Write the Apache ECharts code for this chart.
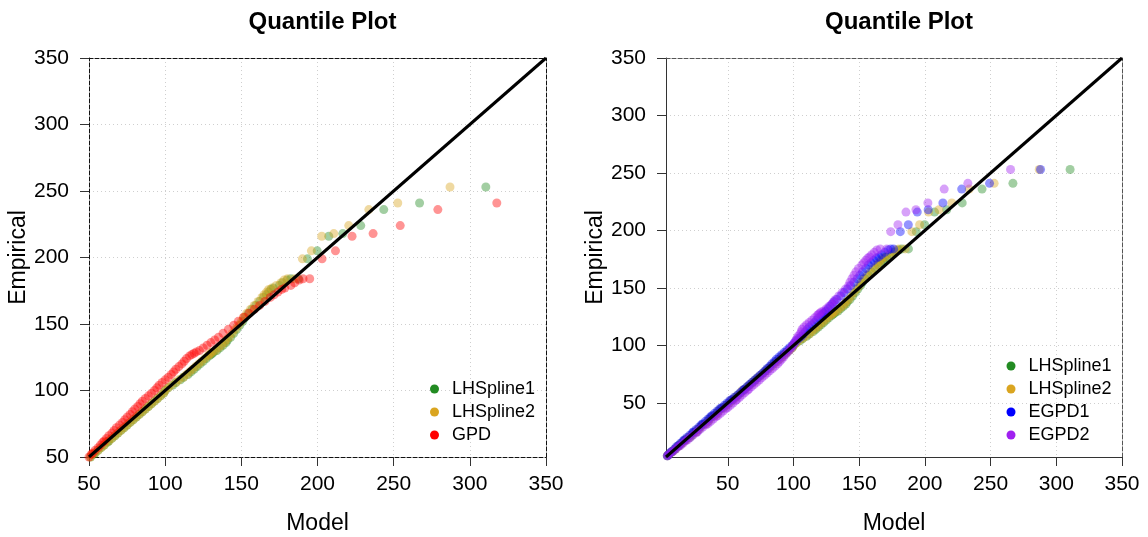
<!DOCTYPE html>
<html>
<head>
<meta charset="utf-8">
<title>Quantile Plot</title>
<script src="https://cdn.jsdelivr.net/npm/echarts@6/dist/echarts.min.js"></script>
<style>
  html, body { margin: 0; padding: 0; background: #fff; }
  #chart { width: 1148px; height: 537px; }
</style>
</head>
<body>
<div id="chart"></div>
<script>
// Sorted empirical quantiles (shared by every model)
const empirical = [
  4, 5, 7, 8, 10, 12, 13, 15, 17, 18,
  20, 22, 24, 25, 27, 29, 31, 32, 34, 36,
  38, 39, 41, 43, 45, 46, 48, 50, 52, 53,
  55, 57, 59, 61, 62, 64, 66, 68, 70, 72,
  74, 76, 78, 80, 82, 84, 86, 88, 90, 92,
  94, 96, 98, 100, 102, 104, 106, 108, 110, 112,
  114, 116, 118, 120, 122, 124, 126, 127, 128, 129,
  130, 132, 134, 136, 138, 140, 143, 146, 149, 152,
  155, 158, 161, 164, 167, 170, 172, 174, 176, 177,
  179, 181, 183, 184, 184, 199, 205, 216, 218, 224,
  236, 241, 253
];

// Model quantiles, one per empirical value
const lhSpline1 = [
  4, 5, 7, 8, 10, 12, 13, 15, 17, 18,
  21, 23, 24, 26, 28, 29, 31, 33, 35, 36,
  38, 40, 42, 43, 45, 47, 49, 51, 53, 54,
  56, 58, 60, 62, 63, 65, 67, 69, 71, 73,
  75, 77, 79, 81, 83, 85, 87, 89, 91, 93,
  95, 97, 99, 100, 102, 105, 107, 110, 112, 115,
  117, 119, 121, 123, 125, 127, 129, 130, 131, 132,
  134, 136, 138, 140, 141, 143, 145, 147, 149, 151,
  152.5, 154.5, 157, 159.5, 162, 164.5, 166.5, 168, 169.5, 171,
  175, 177, 180, 182.5, 187.5, 193.4, 199.8, 207.4, 216.6, 228.4,
  243.5, 267, 310.5
];

const lhSpline2 = [
  4, 5, 7, 8, 10, 12, 13, 15, 17, 18,
  20, 22, 24, 26, 27, 29, 31, 33, 35, 36,
  38, 40, 42, 43, 45, 47, 49, 51, 52, 54,
  56, 58, 60, 61, 63, 65, 67, 69, 71, 73,
  75, 77, 79, 81, 83, 85, 87, 89, 91, 93,
  95, 97, 99, 100, 102, 104, 107, 109, 112, 114,
  116, 118, 120, 122, 124, 126, 128, 129, 130, 131,
  133, 135, 137, 139, 140, 142, 144, 146, 148, 150,
  151.5, 153.5, 156, 158.5, 161, 163.5, 165, 166.5, 168, 170,
  173, 176, 178, 180.3, 185, 190.1, 196, 202.8, 210.7, 220.5,
  233.7, 252.7, 287
];

const egpd1 = [
  4, 5, 6.5, 7.5, 9.5, 11, 12.5, 14, 16, 17,
  19, 21, 23, 24, 26, 28, 30, 31, 33, 35,
  37, 38, 40, 42, 44, 45.5, 47.5, 49.5, 51.5, 53,
  55, 57.5, 59.5, 61.5, 62.5, 64.5, 66.5, 68.5, 70.5, 72.5,
  74.5, 76.5, 78.5, 80, 82, 83.5, 85.5, 87, 89, 91,
  93, 95, 97, 99, 100.5, 102, 104, 106, 107.5, 109,
  110.5, 112, 114, 116, 117.5, 119, 121, 122, 123, 124,
  125, 126.5, 128, 129.5, 131, 133, 136, 138.5, 141, 143.5,
  146, 148.5, 150.5, 152.5, 155, 157, 159, 161, 163, 165,
  167, 169.5, 172, 174, 176.2, 181.3, 187.4, 194.2, 202.5, 213.7,
  228, 249.2, 288
];

const egpd2 = [
  4, 5, 7, 8.5, 10.5, 12.5, 14, 16, 18, 19.5,
  21.5, 23.5, 26, 27, 29, 31, 33.5, 35, 37, 39,
  41, 42.5, 44.5, 46.5, 48.5, 50, 52, 54, 56, 57,
  59, 61, 63, 65, 66, 68, 70, 72, 74, 76,
  78, 80, 82, 84, 86, 88, 89.5, 91, 92.5, 94,
  95.5, 97, 98.5, 99.5, 100.5, 101.5, 102.5, 103.5, 105, 106,
  106.5, 108, 110, 112, 114, 116, 118, 119, 120, 121,
  123, 125, 127, 129, 130.5, 132, 134.5, 137, 139.5, 142,
  143, 144.5, 146, 147.5, 149.5, 152, 153.5, 155, 156.5, 158,
  159.5, 161.5, 163.5, 166, 171, 174, 179.5, 185.6, 193.2, 202.3,
  214.7, 232.7, 265.2
];

// GPD fitted above the threshold: one value per exceedance
const threshold = 50;
const gpd = [
  50, 51.5, 52.5,
  54, 56, 57.5, 59, 60, 61.5, 63, 65, 66.5, 68,
  70, 72, 73.5, 75, 77, 78.5, 80, 82, 83.5, 85,
  87, 89, 91, 93, 94.5, 96, 98, 100, 102, 104,
  105.5, 107, 109, 111, 112.5, 114, 116, 117.5, 119, 120.5,
  122.5, 125, 127.5, 130, 132.5, 135, 138, 141.5, 145, 148,
  151.5, 155, 158.5, 162, 165.5, 169, 171.5, 174, 176.5, 178.5,
  182.5, 185, 188, 190.5, 194.9, 203, 211.8, 222.7, 236.5, 254.3,
  279, 317.7, 372
];

// Axis ranges and tick labels
const leftRange = [50, 350];
const rightRange = [3, 350];
const tickValues = [50, 100, 150, 200, 250, 300, 350];

const colors = {
  LHSpline1: '#228B22',
  LHSpline2: '#DAA520',
  GPD: '#FF0000',
  EGPD1: '#0000FF',
  EGPD2: '#A020F0'
};

const FONT = '"Liberation Sans", Arial, Helvetica, sans-serif';

function pairs(model, emp) {
  return model.map((m, i) => [m, emp[i]]);
}

const exceedIdx = empirical.map((v, i) => i).filter(i => empirical[i] >= threshold);
const exceedances = exceedIdx.map(i => empirical[i]);

function pairsAbove(model) {
  return exceedIdx.map(i => [model[i], empirical[i]]);
}

function mainAxis(gridIndex, range, name, isX, edgeStyle) {
  const ax = {
    type: 'value',
    gridIndex: gridIndex,
    min: range[0],
    max: range[1],
    name: name,
    nameLocation: 'middle',
    nameGap: isX ? 55 : 53,
    nameTextStyle: { fontSize: 23, color: '#000', fontFamily: FONT },
    axisLine: { show: true, onZero: false, lineStyle: edgeStyle },
    axisTick: { show: true, inside: false, length: 9, lineStyle: { color: '#333', width: 1 } },
    axisLabel: { show: true, fontSize: 21, color: '#000', fontFamily: FONT, margin: isX ? 17 : 20,
                 showMinLabel: true, showMaxLabel: true },
    splitLine: { show: true, lineStyle: { color: '#cfcfcf', type: [1, 3], width: 1 } }
  };
  if (range[0] % 50 === 0) {
    ax.interval = 50;
  } else {
    ax.axisTick.customValues = tickValues;
    ax.axisLabel.customValues = tickValues;
  }
  return ax;
}

function edgeAxis(gridIndex, range, position, edgeStyle) {
  return {
    type: 'value', gridIndex: gridIndex, position: position,
    min: range[0], max: range[1],
    axisLine: { show: true, onZero: false, lineStyle: edgeStyle },
    axisTick: { show: false }, axisLabel: { show: false }, splitLine: { show: false }
  };
}

const dashedBlack = { color: '#111', width: 1, type: [4, 2] };
const solidDark = { color: '#333', width: 1 };
const dashedGray = { color: '#555', width: 1, type: [4, 2] };

function scatter(name, data, xi) {
  return {
    type: 'scatter', name: name, xAxisIndex: xi, yAxisIndex: xi,
    data: data, symbol: 'circle', symbolSize: 9, clip: true, silent: true,
    itemStyle: { color: colors[name], opacity: 0.42 },
    emphasis: { disabled: true }
  };
}

function identityLine(range, xi) {
  return {
    type: 'line', xAxisIndex: xi, yAxisIndex: xi, z: 5,
    data: [[range[0], range[0]], [range[1], range[1]]],
    symbol: 'none', silent: true, clip: true,
    lineStyle: { color: '#000', width: 3 }
  };
}

function legend(names, left, top) {
  return {
    data: names, orient: 'vertical', left: left, top: top,
    padding: 0, itemGap: 5, itemWidth: 9, itemHeight: 9,
    icon: 'circle', selectedMode: false,
    itemStyle: { opacity: 1 },
    textStyle: { fontSize: 18, lineHeight: 18, color: '#000', fontFamily: FONT, padding: [0, 0, 0, 8] }
  };
}

const chart = echarts.init(document.getElementById('chart'), null, { renderer: 'canvas' });

chart.setOption({
  animation: false,
  backgroundColor: '#fff',
  textStyle: { fontFamily: FONT },
  title: [
    { text: 'Quantile Plot', left: 317.5, top: 5, textAlign: 'center',
      textStyle: { fontSize: 24, fontWeight: 'bold', color: '#000', fontFamily: FONT } },
    { text: 'Quantile Plot', left: 894, top: 5, textAlign: 'center',
      textStyle: { fontSize: 24, fontWeight: 'bold', color: '#000', fontFamily: FONT } }
  ],
  grid: [
    { left: 89, top: 58, width: 457, height: 399, show: false, containLabel: false, outerBoundsMode: 'none' },
    { left: 666, top: 58, width: 456, height: 399, show: false, containLabel: false, outerBoundsMode: 'none' }
  ],
  xAxis: [
    mainAxis(0, leftRange, 'Model', true, dashedBlack),
    mainAxis(1, rightRange, 'Model', true, solidDark),
    edgeAxis(0, leftRange, 'top', dashedBlack),
    edgeAxis(1, rightRange, 'top', dashedGray)
  ],
  yAxis: [
    mainAxis(0, leftRange, 'Empirical', false, dashedBlack),
    mainAxis(1, rightRange, 'Empirical', false, solidDark),
    edgeAxis(0, leftRange, 'right', dashedBlack),
    edgeAxis(1, rightRange, 'right', dashedGray)
  ],
  legend: [
    legend(['LHSpline1', 'LHSpline2', 'GPD'], 430, 380),
    legend(['LHSpline1', 'LHSpline2', 'EGPD1', 'EGPD2'], 1006.5, 357)
  ],
  series: [
    scatter('LHSpline1', pairsAbove(lhSpline1), 0),
    scatter('LHSpline2', pairsAbove(lhSpline2), 0),
    scatter('GPD', gpd.map((m, i) => [m, exceedances[i]]), 0),
    identityLine(leftRange, 0),
    scatter('LHSpline1', pairs(lhSpline1, empirical), 1),
    scatter('LHSpline2', pairs(lhSpline2, empirical), 1),
    scatter('EGPD1', pairs(egpd1, empirical), 1),
    scatter('EGPD2', pairs(egpd2, empirical), 1),
    identityLine(rightRange, 1)
  ]
});
</script>
</body>
</html>
